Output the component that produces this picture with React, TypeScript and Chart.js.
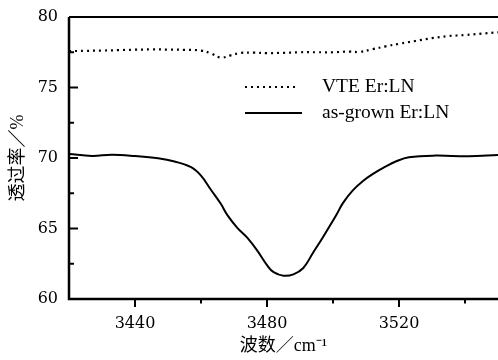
import React, { useEffect, useRef } from "react";
import { Chart, registerables } from "chart.js";

Chart.register(...registerables);

// Wavenumber (cm^-1) and transmittance (%)
const vteWavenumber = [3420, 3425, 3430, 3435, 3440, 3445, 3450, 3455, 3460, 3463, 3466, 3469, 3472, 3476, 3480, 3485, 3490, 3495, 3500, 3505, 3508, 3512, 3516, 3520, 3525, 3530, 3535, 3540, 3545, 3550];
const vteTransmittance = [77.58, 77.6, 77.62, 77.65, 77.68, 77.7, 77.69, 77.67, 77.62, 77.42, 77.12, 77.28, 77.45, 77.47, 77.44, 77.46, 77.5, 77.5, 77.5, 77.55, 77.52, 77.72, 77.92, 78.1, 78.3, 78.5, 78.65, 78.72, 78.82, 78.92];

const grownWavenumber = [3420, 3427, 3433, 3440, 3447, 3452, 3457, 3460, 3463, 3466, 3468, 3471, 3474, 3477, 3480, 3482, 3485, 3488, 3491, 3494, 3497, 3501, 3503, 3506, 3509, 3512, 3516, 3519, 3523, 3531, 3541, 3550];
const grownTransmittance = [70.28, 70.15, 70.23, 70.14, 69.98, 69.75, 69.35, 68.75, 67.75, 66.75, 65.95, 65.05, 64.35, 63.45, 62.4, 61.9, 61.65, 61.75, 62.2, 63.3, 64.4, 65.95, 66.8, 67.7, 68.35, 68.85, 69.4, 69.75, 70.05, 70.17, 70.12, 70.22];

const seriesNames = ["VTE Er:LN", "as-grown Er:LN"];

const xMajorTicks = [3440, 3480, 3520];
const xMinorTicks = [3460, 3500, 3540];
const yMajorTicks = [60, 65, 70, 75, 80];
const yMinorTicks = [62.5, 67.5, 72.5, 77.5];

const xTitle = "波数／cm⁻¹";
const yTitle = "透过率／%";

const TICKFONT = '"DejaVu Serif", serif';
const SERIF = '"Liberation Serif", "Noto Sans CJK SC", serif';

const frame = {
  id: "frame",
  afterDraw(chart: any) {
    const { ctx, chartArea, scales } = chart;
    const { left, right, top, bottom } = chartArea;
    const x = scales.x;
    const y = scales.y;
    ctx.save();
    ctx.strokeStyle = "#000";
    ctx.lineCap = "butt";
    ctx.lineWidth = 2.5;
    ctx.beginPath();
    ctx.moveTo(left, top);
    ctx.lineTo(left, bottom);
    ctx.lineTo(right, bottom);
    ctx.stroke();
    ctx.lineWidth = 2;
    ctx.beginPath();
    ctx.moveTo(left, top);
    ctx.lineTo(right, top);
    ctx.stroke();
    const xt = (v: number, len: number) => {
      const px = x.getPixelForValue(v);
      ctx.beginPath();
      ctx.moveTo(px, bottom);
      ctx.lineTo(px, bottom + len);
      ctx.stroke();
    };
    xMajorTicks.forEach((v) => xt(v, 8));
    xMinorTicks.forEach((v) => xt(v, 4.5));
    const yt = (v: number, len: number) => {
      const py = y.getPixelForValue(v);
      ctx.beginPath();
      ctx.moveTo(left, py);
      ctx.lineTo(left + len, py);
      ctx.stroke();
    };
    yMajorTicks.forEach((v) => yt(v, 9));
    yMinorTicks.forEach((v) => yt(v, 5));

    // legend
    ctx.lineWidth = 2.2;
    ctx.setLineDash([2, 4]);
    ctx.beginPath();
    ctx.moveTo(245, 87);
    ctx.lineTo(298, 87);
    ctx.stroke();
    ctx.setLineDash([]);
    ctx.lineWidth = 2;
    ctx.beginPath();
    ctx.moveTo(245, 113);
    ctx.lineTo(302, 113);
    ctx.stroke();
    ctx.fillStyle = "#000";
    ctx.font = '19.5px "Liberation Serif", serif';
    ctx.textBaseline = "middle";
    ctx.textAlign = "left";
    ctx.fillText(seriesNames[0], 322, 87);
    ctx.fillText(seriesNames[1], 322, 113);
    ctx.restore();
  },
};

export default function App() {
  const ref = useRef<HTMLCanvasElement | null>(null);
  useEffect(() => {
    if (!ref.current) return;
    const chart = new Chart(ref.current, {
      type: "line",
      data: {
        datasets: [
          {
            label: seriesNames[0],
            data: vteWavenumber.map((w, i) => ({ x: w, y: vteTransmittance[i] })),
            borderColor: "#000",
            borderWidth: 2.2,
            borderDash: [2, 4],
            pointRadius: 0,
            tension: 0.4,
            fill: false,
          },
          {
            label: seriesNames[1],
            data: grownWavenumber.map((w, i) => ({ x: w, y: grownTransmittance[i] })),
            borderColor: "#000",
            borderWidth: 2,
            pointRadius: 0,
            tension: 0.4,
            fill: false,
          },
        ],
      },
      options: {
        animation: false,
        responsive: true,
        maintainAspectRatio: false,
        layout: { padding: { top: 17, right: 0, left: 0, bottom: 0 } },
        plugins: { legend: { display: false }, tooltip: { enabled: false } },
        scales: {
          x: {
            type: "linear",
            min: 3420,
            max: 3550,
            grid: { display: false, drawTicks: false },
            border: { display: false },
            afterBuildTicks: (scale: any) => {
              scale.ticks = [...xMajorTicks, ...xMinorTicks].sort((a, b) => a - b).map((v) => ({ value: v }));
            },
            afterFit: (scale: any) => {
              scale.height = 61;
              scale.paddingLeft = 0;
              scale.paddingRight = 0;
            },
            ticks: {
              autoSkip: false,
              maxRotation: 0,
              padding: 15,
              color: "#000",
              font: { family: TICKFONT, size: 16 },
              callback: (v: any) => (xMajorTicks.includes(Number(v)) ? String(v) : ""),
            },
            title: {
              display: true,
              text: xTitle,
              color: "#000",
              font: { family: SERIF, size: 18 },
              padding: { top: 0, bottom: 3 },
            },
          },
          y: {
            min: 60,
            max: 80,
            grid: { display: false, drawTicks: false },
            border: { display: false },
            afterBuildTicks: (scale: any) => {
              scale.ticks = [...yMajorTicks, ...yMinorTicks].sort((a, b) => a - b).map((v) => ({ value: v }));
            },
            afterFit: (scale: any) => {
              scale.width = 69;
              scale.paddingTop = 0;
              scale.paddingBottom = 0;
            },
            ticks: {
              autoSkip: false,
              padding: 11,
              color: "#000",
              font: { family: TICKFONT, size: 16 },
              callback: (v: any) => (yMajorTicks.includes(Number(v)) ? String(v) : ""),
            },
            title: {
              display: true,
              text: yTitle,
              color: "#000",
              font: { family: SERIF, size: 18 },
              padding: { top: 7, bottom: 0 },
            },
          },
        },
      },
      plugins: [frame],
    });
    return () => chart.destroy();
  }, []);
  return (
    <div style={{ position: "fixed", left: 0, top: 0, width: 498, height: 360, background: "#fff" }}>
      <canvas ref={ref} />
    </div>
  );
}
